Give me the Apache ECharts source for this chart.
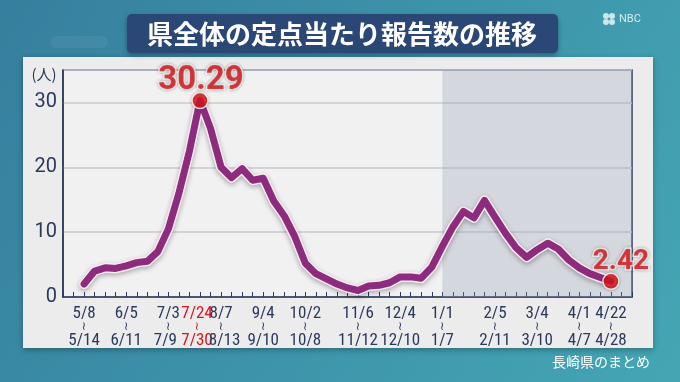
<!DOCTYPE html>
<html>
<head>
<meta charset="utf-8">
<script src="https://cdn.jsdelivr.net/npm/echarts@6/dist/echarts.min.js"></script>
<style>html,body{margin:0;padding:0;background:#3b8ca5;}#c{width:680px;height:382px;}</style>
</head>
<body>
<div id="c"></div>
<script>
// weekly values (index 0 = 5/8-5/14 ... index 50 = 4/22-4/28)
const values = [2.0, 4.0, 4.5, 4.4, 4.8, 5.3, 5.5, 7.0, 10.5, 16.0,
  22.5, 30.29, 26.0, 20.0, 18.4, 19.8, 18.0, 18.3, 14.8, 12.5,
  9.3, 5.2, 3.6, 2.8, 2.0, 1.4, 1.0, 1.7, 1.8, 2.2,
  3.1, 3.1, 2.9, 4.6, 7.8, 10.8, 13.2, 12.2, 14.9, 12.3,
  9.8, 7.6, 6.1, 7.3, 8.3, 7.4, 5.7, 4.5, 3.6, 3.0, 2.42];
const tickIdx    = [0, 4, 8, 11, 13, 17, 21, 26, 30, 34, 39, 43, 47, 50];
const tickTop    = ['5/8','6/5','7/3','7/24','8/7','9/4','10/2','11/6','12/4','1/1','2/5','3/4','4/1','4/22'];
const tickBottom = ['5/14','6/11','7/9','7/30','8/13','9/10','10/8','11/12','12/10','1/7','2/11','3/10','4/7','4/28'];
const redTick = 11;
const highlightIdx = [11, 50];
const shadeFrom = 34;
const yTicks = [0, 10, 20, 30];

const navy = '#2b3a5c';
const red = '#d8161c';
const lineData = values.map((v, i) => [i, v]);

function keys(i) {
  if (i === redTick) return ['r', 'rw', 'r'];
  if (i === redTick - 3) return ['a', 'aw', 'L'];
  if (i === redTick + 2) return ['a', 'aw', 'R'];
  return ['a', 'aw', 'a'];
}

const FF = '"Liberation Sans Narrow", "Roboto Condensed", "DejaVu Sans Condensed", Roboto';
const chart = echarts.init(document.getElementById('c'), null, {renderer: 'canvas'});
chart.setOption({
  animation: false,
  backgroundColor: {
    type: 'linear', x: 0, y: 0, x2: 1, y2: 1,
    colorStops: [{offset: 0, color: '#367f9e'}, {offset: 0.5, color: '#3d93aa'}, {offset: 1, color: '#44a6b3'}]
  },
  graphic: [
    {type: 'rect', shape: {x: 50, y: 36, width: 58, height: 12, r: 6}, style: {fill: 'rgba(255,255,255,0.05)', shadowBlur: 12, shadowColor: 'rgba(255,255,255,0.2)'}, z: 0},
    {type: 'rect', shape: {x: 23, y: 57, width: 630, height: 291}, style: {fill: '#ececec', shadowBlur: 6, shadowColor: 'rgba(0,0,0,0.3)', shadowOffsetY: 2}, z: -10},
    {type: 'rect', shape: {x: 127, y: 14, width: 431, height: 39, r: 5}, style: {fill: '#2a4775', shadowBlur: 5, shadowColor: 'rgba(0,0,0,0.35)', shadowOffsetY: 2}, z: 1},
    {type: 'text', x: 342, y: 34, z: 2, style: {text: '県全体の定点当たり報告数の推移', fill: '#ffffff', font: 'bold 26px "Noto Sans CJK JP"', align: 'center', verticalAlign: 'middle', shadowBlur: 2, shadowColor: 'rgba(0,0,0,0.4)'}},
    {type: 'text', x: 44, y: 74, z: 2, style: {text: '(人)', fill: navy, font: '15px "Noto Sans CJK JP"', align: 'center', verticalAlign: 'middle'}},
    {type: 'text', x: 650, y: 362, z: 2, style: {text: '長崎県のまとめ', fill: '#ffffff', font: '14px "Noto Sans CJK JP"', align: 'right', verticalAlign: 'middle', shadowBlur: 2, shadowColor: 'rgba(0,0,0,0.4)'}},
    {type: 'group', x: 609, y: 19, z: 2, children: [
      {type: 'circle', shape: {cx: -3, cy: -3, r: 3}, style: {fill: 'rgba(255,255,255,0.75)'}},
      {type: 'circle', shape: {cx: 3, cy: -3, r: 3}, style: {fill: 'rgba(255,255,255,0.75)'}},
      {type: 'circle', shape: {cx: -3, cy: 3, r: 3}, style: {fill: 'rgba(255,255,255,0.75)'}},
      {type: 'circle', shape: {cx: 3, cy: 3, r: 3}, style: {fill: 'rgba(255,255,255,0.75)'}},
      {type: 'text', x: 10, y: 0, style: {text: 'NBC', fill: 'rgba(255,255,255,0.8)', font: '11px Roboto', verticalAlign: 'middle'}}
    ]}
  ],
  grid: {left: 63, right: 48, top: 70, bottom: 85, show: true, backgroundColor: '#f1f1f1', borderColor: navy, borderWidth: 1.5},
  xAxis: {
    type: 'value', min: -2, max: 52, interval: 1,
    axisLine: {show: true, onZero: false, lineStyle: {color: navy, width: 1.5}},
    axisTick: {show: true, inside: true, length: 5, lineStyle: {color: navy, width: 1}},
    splitLine: {show: false},
    axisLabel: {
      margin: 10, showMinLabel: true, showMaxLabel: true,
      formatter: function (v) {
        const k = tickIdx.indexOf(v);
        if (k < 0) return '';
        const s = keys(v);
        return '{' + s[0] + '|' + tickTop[k] + '}\n{' + s[1] + '|≀}\n{' + s[2] + '|' + tickBottom[k] + '}';
      },
      rich: {
        a: {fontSize: 17, lineHeight: 13, color: navy, fontFamily: FF},
        aw: {fontSize: 12, lineHeight: 14, color: navy, fontFamily: 'DejaVu Sans'},
        r: {fontSize: 17, lineHeight: 13, color: red, fontFamily: FF, padding: [0, 6, 0, 0]},
        rw: {fontSize: 12, lineHeight: 14, color: red, fontFamily: 'DejaVu Sans', padding: [0, 6, 0, 0]},
        L: {fontSize: 17, lineHeight: 13, color: navy, fontFamily: FF, padding: [0, 6, 0, 0]},
        R: {fontSize: 17, lineHeight: 13, color: navy, fontFamily: FF, padding: [0, 0, 0, 7]}
      }
    }
  },
  yAxis: {
    type: 'value', min: 0, max: 35, interval: 10,
    axisLine: {show: true, onZero: false, lineStyle: {color: navy, width: 1.5}},
    axisTick: {show: false},
    splitLine: {show: true, lineStyle: {color: '#c6cacf', width: 1.5}},
    axisLabel: {
      margin: 6, fontSize: 20, color: navy, fontFamily: 'Roboto', showMaxLabel: false,
      formatter: v => (yTicks.indexOf(v) >= 0 ? String(v) : '')
    }
  },
  series: [
    {
      type: 'line', data: lineData, symbol: 'none', silent: true, z: 2,
      lineStyle: {color: '#fbeaf5', width: 10, shadowBlur: 5, shadowColor: 'rgba(0,0,0,0.3)', shadowOffsetY: 2, join: 'round', cap: 'round'},
      markArea: {silent: true, itemStyle: {color: 'rgba(145,160,178,0.3)'}, data: [[{xAxis: shadeFrom}, {xAxis: 52}]]}
    },
    {
      type: 'line', data: lineData, symbol: 'none', silent: true, z: 3,
      lineStyle: {color: '#8d2b7d', width: 7, join: 'round', cap: 'round'}
    },
    {
      type: 'scatter', symbol: 'circle', symbolSize: 16, z: 5,
      data: highlightIdx.map((i, k) => ({
        value: [i, values[i]],
        label: k === 0 ? {fontSize: 33, offset: [1, 7]} : {fontSize: 28, offset: [10, 5]}
      })),
      itemStyle: {color: '#e0141a', borderColor: '#ffffff', borderWidth: 1.5, shadowBlur: 3, shadowColor: 'rgba(0,0,0,0.3)'},
      label: {
        show: true, position: 'top', distance: 2, fontWeight: 'bold', color: red, fontFamily: 'Roboto',
        textBorderColor: '#ffffff', textBorderWidth: 3, textShadowBlur: 3, textShadowColor: 'rgba(0,0,0,0.35)',
        formatter: p => String(p.value[1])
      }
    }
  ]
});
</script>
</body>
</html>
